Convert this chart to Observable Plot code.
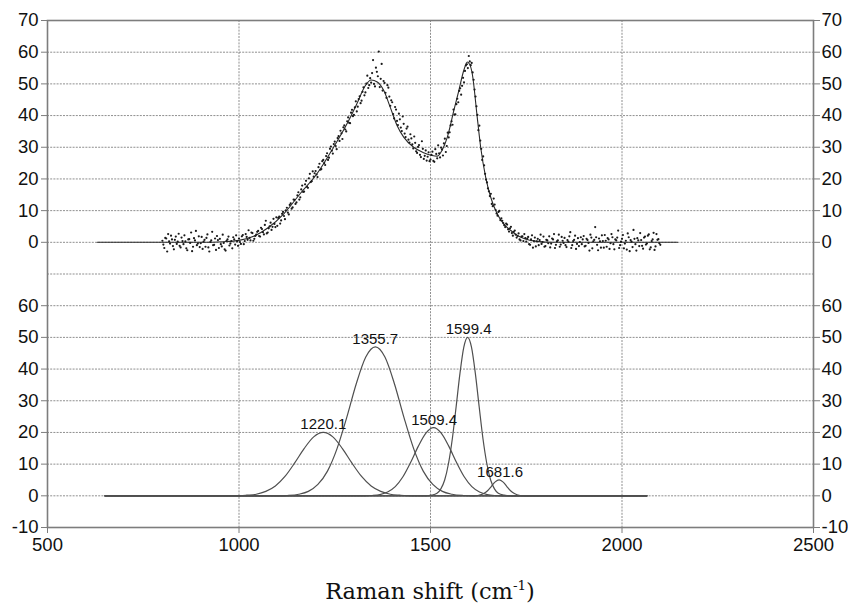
<!DOCTYPE html>
<html>
<head>
<meta charset="utf-8">
<script src="https://cdn.jsdelivr.net/npm/d3@7"></script>
<script src="https://cdn.jsdelivr.net/npm/@observablehq/plot@0.6"></script>
<style>
  body { margin: 0; background: #fff; }
  #wrap { position: relative; width: 848px; height: 603px; overflow: hidden; }
  #chart svg text { font-family: Arial, "Liberation Sans", sans-serif; }
  #xlabel { position: absolute; left: 0; width: 860px; top: 572px; text-align: center;
            font: 22.5px "DejaVu Serif", serif; color: #111; line-height: 26px; }
  #xlabel sup { font-size: 0.6em; }
</style>
</head>
<body>
<div id="wrap">
  <div id="chart"></div>
  <div id="xlabel">Raman shift (cm<sup>-1</sup>)</div>
</div>
<script>
// ---------- data ----------
const xTicks = [500, 1000, 1500, 2000, 2500];
const lowerTicks = [-10, 0, 10, 20, 30, 40, 50, 60];
const upperTicks = [0, 10, 20, 30, 40, 50, 60, 70];
const upperOffset = 80; // upper panel's 0 sits at lower-panel 80

// measured spectrum (upper panel), two interleaved sample sets, 5 cm-1 apart
const scatterStartA = 800;
const scatterStartB = 802.5;
const scatterStep = 5;
const scatterYA = [
  0.5, -1.8, 1.2, 2.6, -0.4, 0.9, -2.2, 1.8, 0.2, -1.1,
  1.5, -0.6, 0.3, -2.5, 1.0, 3.1, -1.4, 0.6, -0.9, 1.9,
  -0.3, -2.1, 0.8, 1.4, -1.6, 0.1, 3.3, -0.8, -2.4, 0.7,
  1.1, -1.3, -0.2, -2.6, 0.9, -1.0, 0.4, 1.6, -0.7, 0.3,
  1.2, -0.5, 2.3, 0.4, 1.7, 3.8, 0.6, 2.9, 1.1, 2.4,
  3.6, 1.8, 4.2, 2.5, 6.8, 3.1, 5.0, 3.9, 7.4, 4.8,
  5.2, 8.1, 6.9, 9.6, 7.3, 10.9, 8.8, 12.3, 11.0, 13.4,
  12.6, 15.8, 14.2, 17.9, 16.0, 19.4, 17.2, 21.6, 19.3, 20.7,
  22.5, 20.6, 24.8, 23.1, 26.0, 24.4, 28.1, 26.7, 30.2, 28.0,
  31.8, 29.4, 33.5, 35.2, 32.6, 36.9, 35.0, 39.4, 37.6, 41.8,
  40.2, 44.5, 42.8, 46.1, 44.7, 48.9, 47.3, 52.6, 49.6, 50.4,
  57.5, 49.2, 53.8, 60.2, 51.6, 47.9, 50.3, 45.6, 48.8, 43.1,
  44.2, 39.1, 41.9, 37.0, 38.8, 35.1, 37.4, 33.2, 36.5, 31.5,
  32.8, 29.6, 31.4, 28.2, 30.7, 26.9, 29.5, 27.3, 25.8, 28.4,
  26.1, 28.6, 25.4, 27.9, 30.6, 26.8, 29.3, 31.2, 28.5, 34.6,
  34.7, 38.2, 41.9, 40.4, 45.3, 47.8, 46.6, 51.9, 54.1, 56.2,
  58.8, 55.9, 53.6, 48.2, 42.9, 35.4, 32.1, 26.0, 24.3, 19.8,
  17.0, 14.6, 12.1, 13.8, 10.2, 8.4, 9.9, 7.6, 6.1, 4.8,
  5.6, 3.4, 4.9, 2.1, 3.7, 1.5, 2.8, 0.6, 1.9, 2.6,
  0.2, 1.7, -0.8, 2.2, 0.4, -1.3, 1.1, 0.7, -0.5, 1.8,
  -1.2, 0.6, 1.9, -0.4, 0.9, -1.8, 0.3, 2.4, -0.7, 0.5,
  1.4, -1.5, 0.2, 3.2, -0.9, 0.8, -2.1, 1.3, 0.1, -0.6,
  2.0, -1.1, 0.7, -2.6, 1.5, 0.3, 4.8, -0.8, 1.2, -1.7,
  0.4, 2.3, -1.4, 0.9, -0.3, 1.6, -2.2, 0.6, 3.7, -0.9,
  1.1, -1.9, 0.5, 2.8, -2.8, 0.2, 3.9, -0.6, 1.3, -1.2,
  0.7, -2.0, 1.8, -0.4, 2.5, -1.6, 0.9, -2.4, 2.6, 1.0,
  -0.8
];
const scatterYB = [
  -0.7, 1.4, -2.9, 0.3, 2.1, -1.2, 0.8, -0.5, 2.7, -1.6,
  0.4, 2.2, -1.9, 0.9, -0.2, -2.8, 1.3, 3.6, -0.4, -1.5,
  1.7, 0.2, -1.4, 2.5, -2.9, 0.6, -0.9, 1.2, 2.0, -1.8,
  -0.6, 2.4, -2.2, 0.5, 1.8, -0.4, -1.9, 0.9, 2.2, -1.1,
  0.1, 1.9, -0.6, 2.6, 0.8, 1.4, 3.1, 0.5, 2.0, 3.3,
  2.0, 4.6, 3.2, 5.5, 2.8, 4.4, 6.2, 4.9, 5.8, 7.9,
  7.7, 5.9, 9.0, 8.3, 10.1, 9.4, 11.8, 10.6, 13.5, 12.1,
  14.8, 13.5, 16.7, 15.9, 18.3, 17.5, 20.2, 19.0, 22.4, 21.8,
  21.4, 23.7, 22.9, 25.6, 25.0, 27.2, 26.0, 29.5, 28.9, 31.0,
  30.4, 32.9, 32.0, 34.4, 36.3, 35.6, 38.2, 37.7, 40.9, 39.8,
  42.6, 41.3, 45.2, 43.9, 47.5, 46.4, 50.1, 48.7, 51.8, 53.4,
  50.0, 55.1, 52.4, 49.0, 56.3, 50.9, 47.2, 49.6, 46.0, 44.8,
  40.5, 42.7, 38.3, 40.6, 36.2, 39.7, 34.3, 35.9, 32.4, 34.1,
  30.9, 33.4, 28.7, 30.1, 27.6, 31.9, 26.3, 29.0, 27.0, 25.6,
  27.6, 25.7, 29.4, 26.5, 28.1, 29.9, 27.4, 32.7, 30.4, 33.1,
  36.9, 37.1, 40.3, 43.6, 44.2, 48.6, 49.4, 50.5, 55.8, 55.0,
  57.1, 56.6, 51.3, 46.0, 40.2, 36.8, 29.5, 27.1, 21.6, 18.9,
  16.1, 15.3, 11.4, 11.9, 9.1, 9.6, 7.0, 6.8, 5.4, 5.9,
  4.1, 4.4, 2.9, 3.3, 2.4, 2.0, 0.9, 1.8, 0.4, 1.3,
  1.2, -0.6, 0.9, -1.7, 1.5, 0.3, -0.9, 2.4, 0.1, -1.4,
  0.8, -0.3, -1.6, 1.2, 2.6, -0.8, 0.6, -1.4, 1.7, -0.2,
  -0.9, 0.7, 1.9, -1.8, 0.4, 2.1, -0.5, -1.2, 1.6, 0.9,
  -1.3, 1.1, -0.2, 2.4, -1.9, 0.8, 1.6, -2.5, 0.3, 2.2,
  -1.7, 0.5, 1.3, -2.1, 2.6, -0.6, 0.9, 1.5, -1.8, 0.2,
  2.3, -0.4, -2.3, 1.6, 0.7, -1.5, 1.1, -2.6, 0.6, 2.9,
  -1.1, 1.5, -0.7, 2.1, -2.2, 0.4, 3.0, -1.3, 0.8, -0.3
];

// fitted envelope (upper panel)
const fitX = [630, 800, 900, 960, 1000, 1040, 1075, 1117, 1160, 1204, 1247, 1282, 1308, 1330, 1345, 1361, 1378, 1395, 1413, 1430, 1456, 1482, 1504, 1518, 1530, 1544, 1561, 1574, 1587, 1596, 1603, 1609, 1622, 1631, 1644, 1657, 1674, 1690, 1709, 1725, 1744, 1778, 1820, 2145];
const fitY = [0, 0, 0, 0.2, 0.6, 2, 4.5, 9, 15.4, 21.7, 30, 37.4, 43.8, 49.5, 51.2, 50.6, 47.9, 42.6, 36.8, 33.2, 30, 28.3, 27.4, 27.2, 29, 33.2, 41.6, 47.9, 54.3, 56.9, 56, 53.2, 39.5, 30, 20.6, 14.3, 9, 6, 3.8, 2.3, 1.2, 0.3, 0, 0];

// deconvolved bands (lower panel)
const band1220X = [650, 990, 1020, 1045, 1070, 1095, 1120, 1145, 1170, 1195, 1220, 1245, 1270, 1295, 1320, 1345, 1370, 1395, 1420, 1450, 2065];
const band1220Y = [0, 0, 0.2, 0.5, 1.4, 3.1, 6.1, 10.3, 14.9, 18.6, 20, 18.6, 14.9, 10.3, 6.1, 3.1, 1.4, 0.5, 0.2, 0, 0];
const band1356X = [650, 1110, 1126, 1156, 1181, 1206, 1231, 1256, 1281, 1306, 1331, 1356, 1381, 1406, 1431, 1456, 1481, 1506, 1531, 1556, 1586, 1610, 2065];
const band1356Y = [0, 0, 0.1, 0.5, 1.4, 3.6, 7.8, 14.9, 24.6, 35.3, 43.8, 47, 43.8, 35.3, 24.6, 14.9, 7.8, 3.6, 1.4, 0.5, 0.1, 0, 0];
const band1509X = [650, 1330, 1348, 1368, 1388, 1408, 1428, 1448, 1468, 1488, 1508, 1528, 1548, 1568, 1588, 1608, 1628, 1648, 1668, 1690, 2065];
const band1509Y = [0, 0, 0.1, 0.4, 1.2, 2.9, 6.0, 10.5, 15.6, 19.8, 21.5, 19.8, 15.6, 10.5, 6.0, 2.9, 1.2, 0.4, 0.1, 0, 0];
const band1599X = [650, 1490, 1502, 1517, 1527, 1537, 1547, 1557, 1567, 1577, 1587, 1597, 1607, 1617, 1627, 1637, 1647, 1657, 1667, 1677, 1692, 1710, 2065];
const band1599Y = [0, 0, 0.2, 0.8, 2.2, 5.0, 10.2, 18, 28.2, 38.7, 46.9, 50, 46.9, 38.7, 28.2, 18, 10.2, 5.0, 2.2, 0.8, 0.2, 0, 0];
const band1682X = [650, 1615, 1624, 1639, 1649, 1659, 1669, 1679, 1689, 1699, 1709, 1719, 1734, 1745, 2065];
const band1682Y = [0, 0, 0.1, 0.7, 1.6, 3.0, 4.4, 5, 4.4, 3.0, 1.6, 0.7, 0.1, 0, 0];

const bandLabels = ["1220.1", "1355.7", "1509.4", "1599.4", "1681.6"];
const bandHeights = [20, 47, 21.5, 50, 5];

// ---------- build tables ----------
const scatter = [
  ...scatterYA.map((y, i) => ({x: scatterStartA + i * scatterStep, y})),
  ...scatterYB.map((y, i) => ({x: scatterStartB + i * scatterStep, y}))
];
const fit = fitX.map((x, i) => ({x, y: fitY[i]}));
const bands = [
  [band1220X, band1220Y], [band1356X, band1356Y], [band1509X, band1509Y],
  [band1599X, band1599Y], [band1682X, band1682Y]
].flatMap(([xs, ys], k) => xs.map((x, i) => ({band: k, x, y: ys[i]})));
const labels = bandLabels.map((t, i) => ({text: t, x: +t, y: bandHeights[i]}));

const yTickValues = [...lowerTicks, ...upperTicks.map(v => v + upperOffset)];
const yFormat = v => (v >= upperOffset ? v - upperOffset : v);
const gridValues = d3.range(-10, 151, 10);

const axisColor = "#7d7d7d";
const textColor = "#111";
const gridStyle = {stroke: "#8f8f8f", strokeWidth: 1, strokeDasharray: "2,1.2"};

const chart = Plot.plot({
  width: 848,
  height: 603,
  marginLeft: 47,
  marginRight: 35,
  marginTop: 20,
  marginBottom: 76,
  style: {fontFamily: "Arial, 'Liberation Sans', sans-serif", fontSize: "18.5px", color: textColor, background: "#fff"},
  x: {domain: [500, 2500]},
  y: {domain: [-10, 150]},
  marks: [
    Plot.ruleY(gridValues, gridStyle),
    Plot.ruleX([1000, 1500, 2000], gridStyle),
    Plot.axisY({anchor: "left", ticks: yTickValues, tickFormat: yFormat, tickSize: 6, tickPadding: 3,
                stroke: axisColor, fill: textColor, fontSize: 18.5, label: null}),
    Plot.axisY({anchor: "right", ticks: yTickValues, tickFormat: yFormat, tickSize: 6, tickPadding: 2,
                stroke: axisColor, fill: textColor, fontSize: 18.5, label: null}),
    Plot.axisX({anchor: "bottom", ticks: xTicks, tickFormat: d => String(d), tickSize: 6, tickPadding: 4,
                stroke: axisColor, fill: textColor, fontSize: 18.5, label: null}),
    Plot.frame({stroke: axisColor, strokeWidth: 1.6}),
    // lower panel bands
    Plot.line(bands, {x: "x", y: "y", z: "band", stroke: "#4f4f4f", strokeWidth: 1.2, curve: "monotone-x"}),
    Plot.text(labels, {x: "x", y: "y", text: "text", lineAnchor: "bottom", dy: -3, fontSize: 15, fill: textColor}),
    // upper panel
    Plot.line(fit, {x: "x", y: d => d.y + upperOffset, stroke: "#2a2a2a", strokeWidth: 1.1, curve: "monotone-x"}),
    Plot.dot(scatter, {x: "x", y: d => d.y + upperOffset, r: 1.1, fill: "#1a1a1a", stroke: "none"})
  ]
});
document.getElementById("chart").appendChild(chart);
</script>
</body>
</html>
